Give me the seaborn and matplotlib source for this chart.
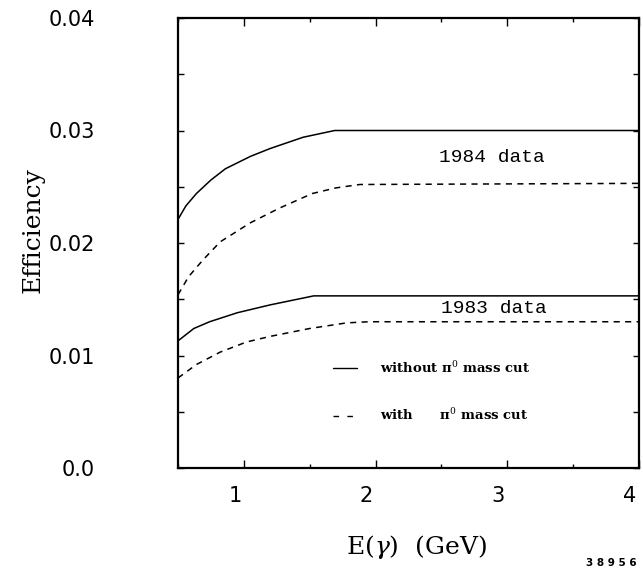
import numpy as np
import pandas as pd
import matplotlib
matplotlib.use("Agg")
import matplotlib.pyplot as plt
import matplotlib.transforms as mtransforms
from matplotlib.lines import Line2D
from matplotlib.ticker import MultipleLocator, FixedLocator, FixedFormatter
import seaborn as sns

# ---- data ----
e84_solid_x = [0.50, 0.56, 0.64, 0.75, 0.86, 1.05, 1.20, 1.45, 1.69, 4.00]
e84_solid_y = [0.0221, 0.0233, 0.0244, 0.0256, 0.0266, 0.0277, 0.0284, 0.0294, 0.0300, 0.0300]

e84_dash_x = [0.50, 0.58, 0.69, 0.82, 1.05, 1.27, 1.52, 1.70, 1.88, 4.00]
e84_dash_y = [0.0154, 0.0170, 0.0185, 0.0201, 0.0218, 0.0231, 0.0244, 0.0249, 0.0252, 0.0253]

e83_solid_x = [0.50, 0.62, 0.74, 0.95, 1.20, 1.53, 4.00]
e83_solid_y = [0.0113, 0.0124, 0.0130, 0.0138, 0.0145, 0.0153, 0.0153]

e83_dash_x = [0.50, 0.64, 0.82, 1.02, 1.20, 1.50, 1.78, 1.95, 4.00]
e83_dash_y = [0.0080, 0.0092, 0.0103, 0.0112, 0.0117, 0.0124, 0.0129, 0.0130, 0.0130]

x_ticks = [1, 2, 3, 4]
x_tick_labels = ["1", "2", "3", "4"]
y_ticks = [0.0, 0.01, 0.02, 0.03, 0.04]
y_tick_labels = ["0.0", "0.01", "0.02", "0.03", "0.04"]

series_labels = ["1984 data", "1983 data"]
legend_labels = ["without \u03c0$^0$ mass cut", "with      \u03c0$^0$ mass cut"]

frames = []
for name, xs, ys, cut in [("1984", e84_solid_x, e84_solid_y, "without"),
                          ("1984d", e84_dash_x, e84_dash_y, "with"),
                          ("1983", e83_solid_x, e83_solid_y, "without"),
                          ("1983d", e83_dash_x, e83_dash_y, "with")]:
    frames.append(pd.DataFrame({"E": xs, "eff": ys, "series": name, "cut": cut}))
df = pd.concat(frames, ignore_index=True)

# ---- style ----
sns.set_style("ticks")
plt.rcParams["font.family"] = ["DejaVu Sans"]
plt.rcParams["mathtext.fontset"] = "dejavuserif"
for k in ["text.color", "axes.labelcolor", "xtick.color", "ytick.color",
          "xtick.labelcolor", "ytick.labelcolor"]:
    plt.rcParams[k] = "black"

fig = plt.figure(figsize=(6.43, 5.68), dpi=100)
ax = fig.add_axes([178 / 643, 1 - 468 / 568, 461 / 643, 450 / 568])

sns.lineplot(data=df, x="E", y="eff", units="series", style="cut",
             estimator=None, sort=False, color="black", linewidth=1.1,
             dashes={"without": "", "with": (4, 3.5)}, legend=False, ax=ax)

ax.set_xlim(0.5, 4.0)
ax.set_ylim(0.0, 0.04)

ax.xaxis.set_major_locator(FixedLocator(x_ticks))
ax.xaxis.set_major_formatter(FixedFormatter(x_tick_labels))
ax.xaxis.set_minor_locator(MultipleLocator(0.5))
ax.yaxis.set_major_locator(FixedLocator(y_ticks))
ax.yaxis.set_major_formatter(FixedFormatter(y_tick_labels))
ax.yaxis.set_minor_locator(MultipleLocator(0.005))

ax.tick_params(axis="both", which="both", direction="in", top=True, right=True,
               color="black", width=1.0)
ax.tick_params(axis="x", which="major", length=6, pad=13, labelsize=15)
ax.tick_params(axis="x", which="minor", length=3)
ax.tick_params(axis="y", which="major", length=4, pad=60, labelsize=15)
ax.tick_params(axis="y", which="minor", length=4)

# tick labels sit a little left of their ticks in the reference
shift = mtransforms.ScaledTranslation(-9 / 100, 0, fig.dpi_scale_trans)
for lab in ax.get_xticklabels():
    lab.set_transform(lab.get_transform() + shift)

for sp in ax.spines.values():
    sp.set_linewidth(1.6)
    sp.set_color("black")

ax.set_xlabel("E($\\gamma$)  (GeV)", fontsize=18, family="DejaVu Serif", va="center")
ax.xaxis.set_label_coords(0.518, -0.176)
ax.set_ylabel("Efficiency", fontsize=18, family="DejaVu Serif", va="center")
ax.yaxis.set_label_coords(-0.314, 0.529)

ax.text(2.886, 0.02764, series_labels[0], fontsize=14, family="Liberation Mono",
        ha="center", va="center")
ax.text(2.90, 0.01422, series_labels[1], fontsize=14, family="Liberation Mono",
        ha="center", va="center")

handles = [Line2D([], [], color="black", linewidth=1.0, linestyle="-"),
           Line2D([], [], color="black", linewidth=1.0, dashes=(4, 6))]
leg = ax.legend(handles, legend_labels, loc="upper left",
                bbox_to_anchor=(0.336, 0.24), frameon=False,
                prop={"family": "DejaVu Serif", "size": 9.5, "weight": "bold"},
                handlelength=1.8, handletextpad=1.75, labelspacing=2.4,
                borderpad=0, borderaxespad=0)

fig.text(586 / 643, 1 - 563 / 568, "3 8 9 5 6", fontsize=7.5, weight="bold",
         ha="left", va="center", family="DejaVu Sans")

fig.savefig("out.png", dpi=100, facecolor="white")
